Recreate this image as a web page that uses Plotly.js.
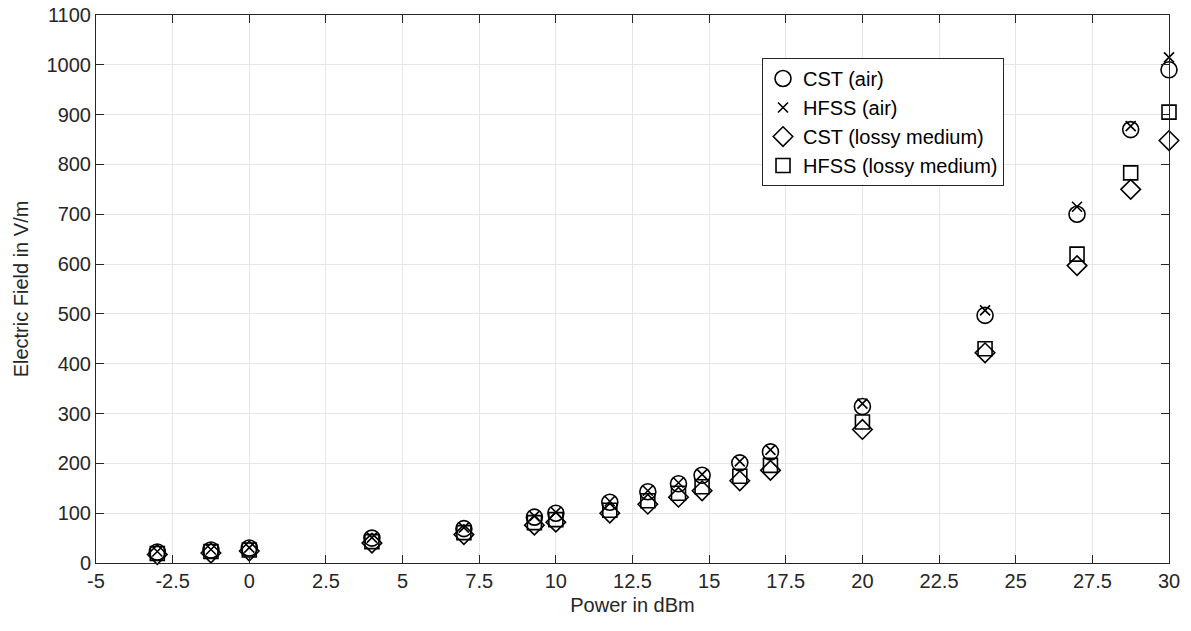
<!DOCTYPE html>
<html>
<head>
<meta charset="utf-8">
<script src="https://cdn.plot.ly/plotly-3.0.1.min.js"></script>
<style>html,body{margin:0;padding:0;background:#fff;}#chart{width:1191px;height:631px;}</style>
</head>
<body>
<div id="chart"></div>
<script>
var powerDbm = [-3, -1.25, 0, 4, 7, 9.3, 10, 11.76, 13, 14, 14.77, 16, 17, 20, 24, 27, 28.75, 30];
var cstAir = [22, 26, 30, 50, 69, 92, 100, 122, 143, 159, 176, 201, 223, 314, 497, 700, 870, 990];
var hfssAir = [23, 27, 31, 51, 71, 94, 102, 124, 145, 161, 178, 204, 227, 320, 507, 715, 877, 1015];
var cstLossy = [17, 20, 24, 40, 57, 76, 82, 100, 118, 132, 145, 165, 186, 268, 422, 597, 750, 848];
var hfssLossy = [19, 23, 26, 43, 61, 81, 87, 106, 125, 140, 153, 174, 196, 283, 430, 620, 783, 905];
var xTickVals = [-5, -2.5, 0, 2.5, 5, 7.5, 10, 12.5, 15, 17.5, 20, 22.5, 25, 27.5, 30];
var xTickText = ["-5", "-2.5", "0", "2.5", "5", "7.5", "10", "12.5", "15", "17.5", "20", "22.5", "25", "27.5", "30"];
var yTickVals = [0, 100, 200, 300, 400, 500, 600, 700, 800, 900, 1000, 1100];

var FONT = 'Liberation Sans, Arial, sans-serif';
function tr(name, y, symbol, size) {
  return {
    x: powerDbm, y: y, name: name, type: 'scatter', mode: 'markers', cliponaxis: false,
    marker: {symbol: symbol, size: size, color: '#000000', line: {color: '#000000', width: 1.6}}
  };
}
var data = [
  tr('CST (air)', cstAir, 'circle-open', 16),
  tr('HFSS (air)', hfssAir, 'x-thin-open', 10),
  tr('CST (lossy medium)', cstLossy, 'diamond-open', 15),
  tr('HFSS (lossy medium)', hfssLossy, 'square-open', 14)
];
var axisCommon = {
  showgrid: true, gridcolor: '#e6e6e6', gridwidth: 1,
  showline: true, linecolor: '#262626', linewidth: 1, mirror: 'ticks',
  ticks: 'inside', ticklen: 8, tickcolor: '#262626', tickwidth: 1,
  zeroline: false,
  tickfont: {family: FONT, size: 20, color: '#262626'}
};
var layout = {
  width: 1191, height: 631,
  margin: {l: 96, r: 22, t: 15, b: 68},
  paper_bgcolor: '#ffffff', plot_bgcolor: '#ffffff',
  showlegend: true,
  xaxis: Object.assign({}, axisCommon, {
    range: [-5, 30], tickmode: 'array', tickvals: xTickVals, ticktext: xTickText,
    title: {text: 'Power in dBm', font: {family: FONT, size: 20, color: '#262626'}, standoff: 6}
  }),
  yaxis: Object.assign({}, axisCommon, {
    range: [0, 1100], tickmode: 'array', tickvals: yTickVals,
    title: {text: 'Electric Field in V/m', font: {family: FONT, size: 20, color: '#262626'}, standoff: 12}
  }),
  legend: {
    x: 0.6207, y: 0.9215, xanchor: 'left', yanchor: 'top',
    bgcolor: '#ffffff', bordercolor: '#262626', borderwidth: 1,
    font: {family: FONT, size: 20, color: '#000000'},
    itemwidth: 30, tracegroupgap: 0
  }
};
Plotly.newPlot('chart', data, layout, {displayModeBar: false, staticPlot: true});
</script>
</body>
</html>
